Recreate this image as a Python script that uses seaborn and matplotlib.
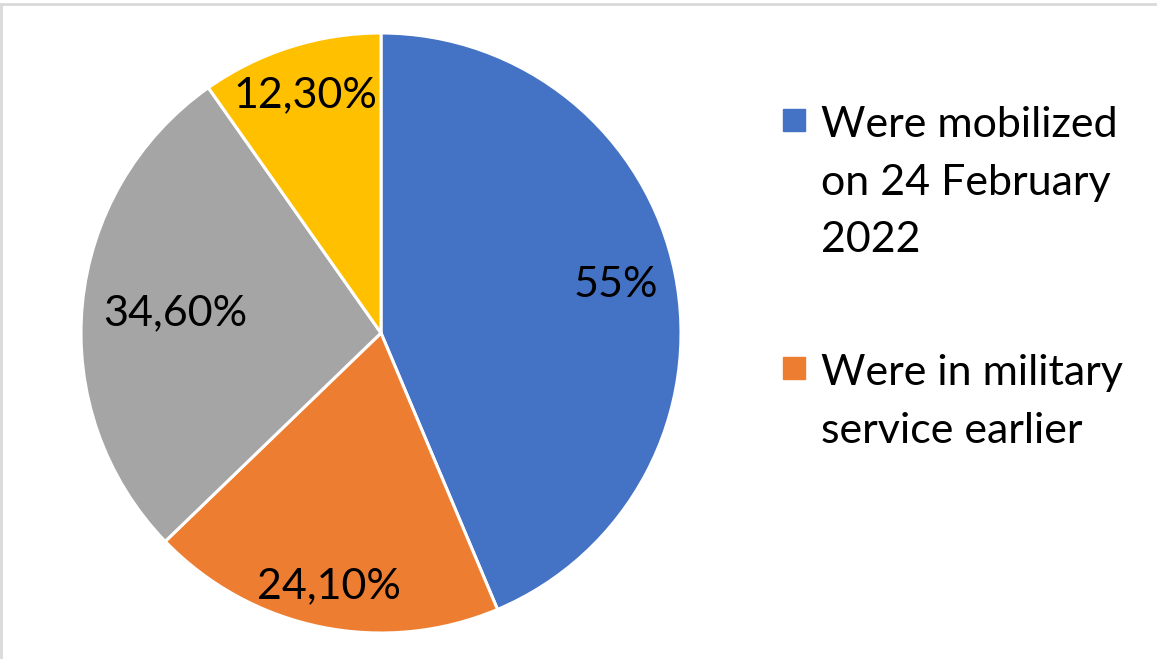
import numpy as np
import seaborn as sns
from matplotlib import pyplot as plt
from matplotlib.lines import Line2D
from matplotlib.patches import Rectangle

sns.set_theme(style="white")
plt.rcParams['font.family'] = ['Lato', 'DejaVu Sans']

# data (slices are drawn from the raw values)
values = [55, 24.1, 34.6, 12.3]
value_labels = ["55%", "24,10%", "34,60%", "12,30%"]
colors = ["#4472C4", "#ED7D31", "#A5A5A5", "#FFC000"]
legend_labels = ["Were mobilized\non 24 February\n2022", "Were in military\nservice earlier"]

# label distance from centre, per slice (Excel best fit)
label_radius = [0.80, 0.86, 0.69, 0.83]

fig = plt.figure(figsize=(11.57, 6.59), dpi=100)
ax = fig.add_axes([81 / 1157, 26 / 659, 600 / 1157, 600 / 659])

wedges, _ = ax.pie(values, colors=colors, startangle=90, counterclock=False,
                   wedgeprops=dict(edgecolor="white", linewidth=2.2))
ax.set_xlim(-1, 1)
ax.set_ylim(-1, 1)
ax.set_aspect("equal")
ax.axis("off")

for w, lab, r in zip(wedges, value_labels, label_radius):
    ang = np.deg2rad((w.theta1 + w.theta2) / 2)
    ax.text(r * np.cos(ang), r * np.sin(ang), lab, ha="center", va="center",
            fontsize=31, color="black")

# legend (square aligned with first line, like Excel)
legend_tops = [137, 385]  # baseline of first line, px from top
for lab, col, base in zip(legend_labels, colors[:2], legend_tops):
    fig.add_artist(Rectangle((783 / 1157, 1 - (base - 6) / 659), 22 / 1157, 22 / 659,
                             transform=fig.transFigure, color=col))
    fig.text(821 / 1157, 1 - (base - 31) / 659, lab, ha="left", va="top",
             fontsize=31, linespacing=1.63, color="black")

# chart border
fig.add_artist(Line2D([0, 1], [1 - 4 / 659, 1 - 4 / 659], transform=fig.transFigure,
                      color="#D9D9D9", linewidth=2))
fig.add_artist(Line2D([1 / 1157, 1 / 1157], [0, 1 - 4 / 659], transform=fig.transFigure,
                      color="#D9D9D9", linewidth=2))

fig.savefig("out.png", dpi=100)
